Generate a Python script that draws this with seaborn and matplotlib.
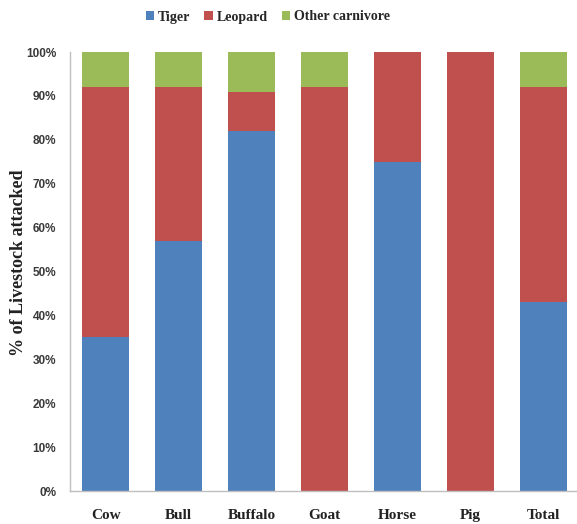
import matplotlib
matplotlib.use("Agg")
import matplotlib.pyplot as plt
from matplotlib.patches import Patch
from matplotlib.ticker import FuncFormatter
import numpy as np
import pandas as pd
import seaborn as sns

# Share of livestock attacked by each predator (%)
livestock = ["Cow", "Bull", "Buffalo", "Goat", "Horse", "Pig", "Total"]
tiger = [35, 57, 82, 0, 75, 0, 43]
leopard = [57, 35, 9, 92, 25, 100, 49]
other_carnivore = [8, 8, 9, 8, 0, 0, 8]

series_names = ["Tiger", "Leopard", "Other carnivore"]
series_colors = ["#4F81BD", "#C0504D", "#9BBB59"]

df = pd.DataFrame({
    "livestock": livestock,
    "Tiger": tiger,
    "Leopard": leopard,
    "Other carnivore": other_carnivore,
})
# Cumulative tops of each stacked segment
df["top_tiger"] = df["Tiger"]
df["top_leopard"] = df["Tiger"] + df["Leopard"]
df["top_other"] = df["top_leopard"] + df["Other carnivore"]

sns.set_style("white")
serif = ["Liberation Serif", "DejaVu Serif"]

fig = plt.figure(figsize=(5.77, 5.24), dpi=100)
ax = fig.add_axes([70 / 577, 33 / 524, 1 - 70 / 577, (491 - 52) / 524])

# Draw from the tallest stack down so each segment shows its own band
for col, color in zip(["top_other", "top_leopard", "top_tiger"], series_colors[::-1]):
    sns.barplot(data=df, x="livestock", y=col, order=livestock, color=color,
                width=0.64, saturation=1, ax=ax, linewidth=0, errorbar=None)

ax.set_ylim(0, 100)
ax.set_xlim(-0.49, 6.457)
ax.set_yticks(np.arange(0, 101, 10))
ax.yaxis.set_major_formatter(FuncFormatter(lambda v, _: f"{int(v)}%"))
ax.tick_params(axis="y", length=0, pad=10, labelsize=8.5, labelcolor="#3a3a3a")
ax.tick_params(axis="x", length=0, pad=13)
for lab in ax.get_yticklabels():
    lab.set_family(["Liberation Sans", "DejaVu Sans"])
    lab.set_fontweight("bold")
for lab in ax.get_xticklabels():
    lab.set_family(serif)
    lab.set_fontweight("bold")
    lab.set_fontsize(11)
    lab.set_color("#222222")

ax.set_xlabel("")
ax.set_ylabel("% of Livestock attacked", family=serif, fontweight="bold",
              fontsize=13, color="#222222")
ax.yaxis.set_label_coords((27 - 70) / (577 - 70), 0.52)

for side in ["top", "right"]:
    ax.spines[side].set_visible(False)
for side in ["left", "bottom"]:
    ax.spines[side].set_color("#BFBFBF")
    ax.spines[side].set_linewidth(1)

handles = [Patch(facecolor=c, edgecolor="none", label=n)
           for n, c in zip(series_names, series_colors)]
fig.legend(handles=handles, loc="center", bbox_to_anchor=(268 / 577, 1 - 17 / 524),
           ncol=3, frameon=False, handlelength=0.6, handleheight=0.6,
           handletextpad=0.3, columnspacing=1.0,
           prop={"family": serif, "weight": "bold", "size": 10})

fig.savefig("out.png", dpi=100)
